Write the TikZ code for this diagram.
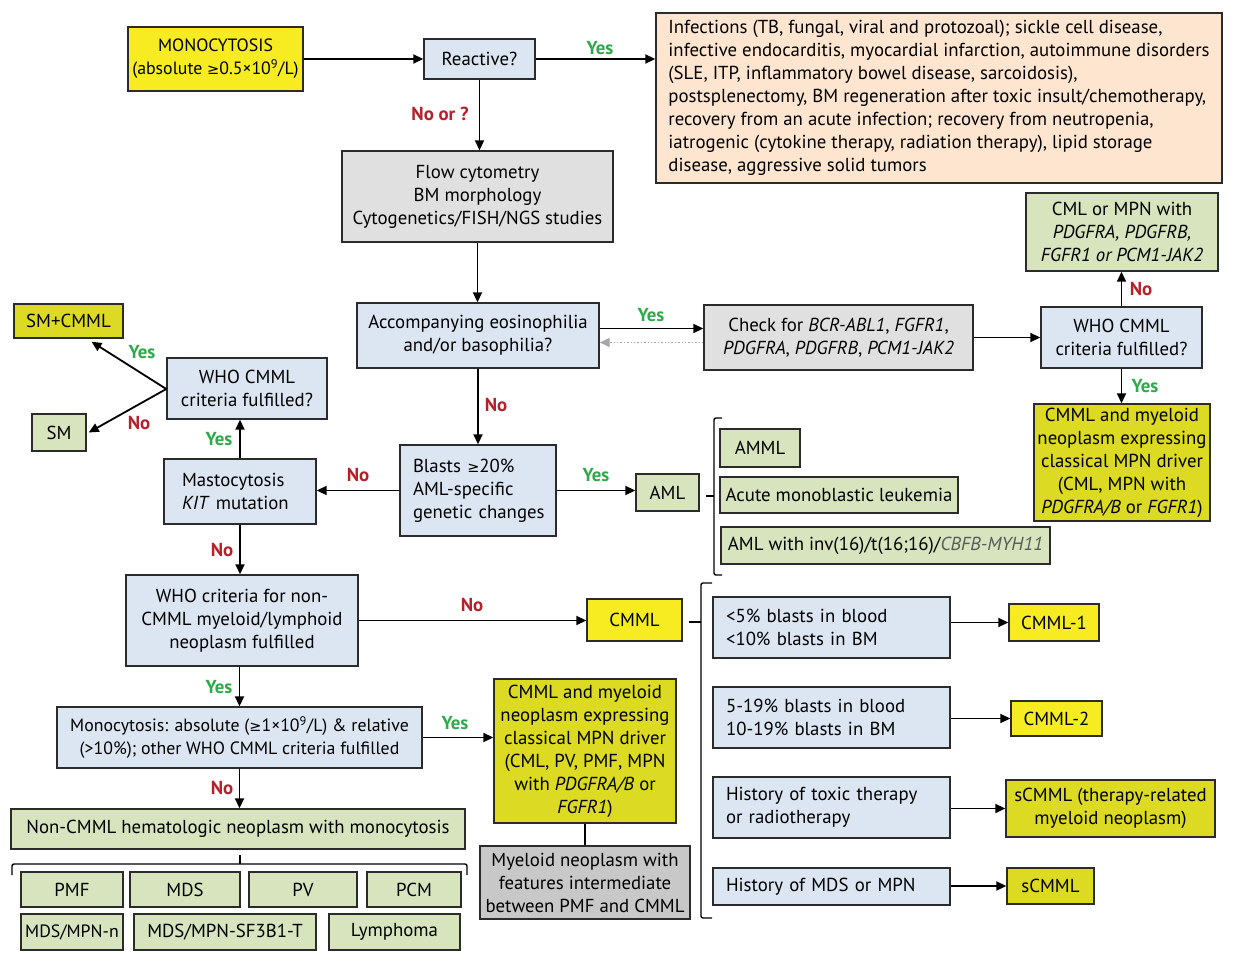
\documentclass[tikz,border=0pt]{standalone}
\usepackage{fontspec}
\setmainfont{PT Sans}
\newfontfamily\symf{DejaVu Sans}
\usetikzlibrary{arrows.meta,calc}
\definecolor{cblue}{HTML}{DCE6F2}
\definecolor{cgreen}{HTML}{D7E4BD}
\definecolor{cpeach}{HTML}{FDE5CF}
\definecolor{cgray}{HTML}{E0E0E0}
\definecolor{cdgray}{HTML}{C8C8C8}
\definecolor{cyel}{HTML}{F7EC22}
\definecolor{colive}{HTML}{DCDA22}
\definecolor{cedge}{HTML}{2B2B2B}
\definecolor{yesc}{HTML}{2EAA4A}
\definecolor{noc}{HTML}{B5202A}
\newcommand\mygeq{{\symf\fontsize{14.5}{23}\selectfont ≥}}
\newcommand\bx[7]{\node[box,#6,minimum width={(#4-#2)*1pt},minimum height={(#5-#3)*1pt}] (#1) at ({(#2+#4)/2},{(#3+#5)/2}) {#7};}
\tikzset{
  box/.style={draw=cedge,line width=1.4pt,inner sep=0pt,align=center,font=\fontsize{18.8}{23}\selectfont},
  smallf/.style={font=\fontsize{17.8}{23}\selectfont},
  blue/.style={fill=cblue}, green/.style={fill=cgreen}, peach/.style={fill=cpeach},
  gray/.style={fill=cgray}, dgray/.style={fill=cdgray}, yel/.style={fill=cyel}, olive/.style={fill=colive},
  lt/.style={align=left},
  arr/.style={line width=1.8pt,-{Triangle[length=10pt,width=9pt]}},
  yes/.style={text=yesc,font=\bfseries\fontsize{18.8}{20}\selectfont},
  no/.style={text=noc,font=\bfseries\fontsize{18.8}{20}\selectfont},
}
\begin{document}
\begin{tikzpicture}[x=1pt,y=-1pt]
\useasboundingbox[fill=white] (0,0) rectangle (1239,963);
% boxes
\bx{mono}{128}{27}{303}{91}{yel,smallf}{MONOCYTOSIS\\(absolute \mygeq0.5×10\textsuperscript{9}/L)}
\bx{reactive}{424}{39}{535}{79}{blue}{Reactive?}
\bx{infect}{656}{13}{1222}{183}{peach,lt}{Infections (TB, fungal, viral and protozoal); sickle cell disease,\\infective endocarditis, myocardial infarction, autoimmune disorders\\(SLE, ITP, inflammatory bowel disease, sarcoidosis),\\postsplenectomy, BM regeneration after toxic insult/chemotherapy,\\recovery from an acute infection; recovery from neutropenia,\\iatrogenic (cytokine therapy, radiation therapy), lipid storage\\disease, aggressive solid tumors}
\bx{flow}{342}{151}{613}{242}{gray}{Flow cytometry\\BM morphology\\Cytogenetics/FISH/NGS studies}
\bx{eos}{357}{303}{599}{368}{blue}{Accompanying eosinophilia\\and/or basophilia?}
\bx{check}{704}{305}{973}{370}{gray}{Check for \textit{BCR-ABL1}, \textit{FGFR1},\\\textit{PDGFRA}, \textit{PDGFRB}, \textit{PCM1-JAK2}}
\bx{whor}{1041}{307}{1202}{368}{blue}{WHO CMML\\criteria fulfilled?}
\bx{cml}{1026}{193}{1218}{271}{green}{CML or MPN with\\\textit{PDGFRA, PDGFRB,}\\\textit{FGFR1 or PCM1-JAK2}}
\bx{cmmlr}{1034}{404}{1210}{521}{olive}{CMML and myeloid\\neoplasm expressing\\classical MPN driver\\(CML, MPN with\\\textit{PDGFRA/B} or \textit{FGFR1})}
\bx{blasts}{400}{445}{556}{536}{blue,lt,text width=130pt}{Blasts~\mygeq20\%\\AML-specific\\genetic~changes}
\bx{aml}{636}{474}{699}{511}{green}{AML}
\bx{amml}{720}{429}{800}{467}{green}{AMML}
\bx{amol}{720}{477}{958}{513}{green}{Acute monoblastic leukemia}
\bx{aminv}{721}{527}{1050}{564}{green}{AML with inv(16)/t(16;16)/{\color{black!65}\textit{CBFB-MYH11}}}
\bx{masto}{164}{459}{316}{524}{blue,lt,text width=116pt}{Mastocytosis\\\textit{KIT}~mutation}
\bx{whol}{167}{358}{327}{419}{blue}{WHO CMML\\criteria fulfilled?}
\bx{smcmml}{14}{304}{123}{338}{olive}{SM+CMML}
\bx{sm}{32}{414}{86}{451}{green}{SM}
\bx{whon}{126}{575}{358}{666}{blue}{WHO criteria for non-\\CMML myeloid/lymphoid\\neoplasm fulfilled}
\bx{cmml}{587}{599}{682}{641}{yel}{CMML}
\bx{mono2}{57}{707}{422}{768}{blue,smallf}{Monocytosis: absolute (\mygeq1×10\textsuperscript{9}/L) \& relative\\(>10\%); other WHO CMML criteria fulfilled}
\bx{cmmlm}{494}{679}{676}{823}{olive}{CMML and myeloid\\neoplasm expressing\\classical MPN driver\\(CML, PV, PMF, MPN\\with \textit{PDGFRA/B} or\\\textit{FGFR1})}
\bx{myel}{480}{846}{690}{919}{dgray}{Myeloid neoplasm with\\features intermediate\\between PMF and CMML}
\bx{noncmml}{11}{809}{465}{849}{green}{Non-CMML hematologic neoplasm with monocytosis}
\bx{pmf}{21}{872}{123}{907}{green}{PMF}
\bx{mds}{130}{872}{240}{907}{green}{MDS}
\bx{pv}{249}{872}{357}{907}{green}{PV}
\bx{pcm}{367}{872}{461}{907}{green}{PCM}
\bx{mdsn}{21}{914}{123}{950}{green,smallf}{MDS/MPN-n}
\bx{mdssf}{134}{914}{316}{950}{green}{MDS/MPN-SF3B1-T}
\bx{lymph}{329}{914}{460}{950}{green}{Lymphoma}
\bx{b1}{713}{597}{950}{658}{blue,lt,text width=211pt}{<5\%~blasts~in~blood\\<10\%~blasts~in~BM}
\bx{b2}{713}{687}{950}{748}{blue,lt,text width=211pt}{5-19\%~blasts~in~blood\\10-19\%~blasts~in~BM}
\bx{b3}{713}{777}{950}{838}{blue,lt,text width=211pt}{History~of~toxic~therapy\\or~radiotherapy}
\bx{b4}{713}{868}{950}{905}{blue,lt,text width=211pt}{History~of~MDS~or~MPN}
\bx{c1}{1009}{604}{1099}{641}{yel}{CMML-1}
\bx{c2}{1011}{701}{1102}{736}{yel}{CMML-2}
\bx{c3}{1006}{780}{1215}{837}{olive}{sCMML (therapy-related\\myeloid neoplasm)}
\bx{c4}{1007}{868}{1094}{904}{olive}{sCMML}
% connectors
\draw[arr] (mono.east) -- (mono.east -| reactive.west);
\draw[arr] (reactive.east) -- (reactive.east -| infect.west);
\draw[arr] (reactive.south) -- (reactive.south |- flow.north);
\draw[arr] (flow.south) -- (flow.south |- eos.north);
\draw[arr] ($(eos.east)+(0,-7)$) -- ($(eos.east -| check.west)+(0,-7)$);
\draw[line width=1.4pt,gray!70,dotted,-{Triangle[length=10pt,width=9pt]}] ($(check.west)+(0,5)$) -- ($(check.west -| eos.east)+(0,5)$);
\draw[arr] (check.east) -- (check.east -| whor.west);
\draw[arr] (whor.north) -- (whor.north |- cml.south);
\draw[arr] (whor.south) -- (whor.south |- cmmlr.north);
\draw[arr] (eos.south) -- (eos.south |- blasts.north);
\draw[arr] (blasts.east) -- (blasts.east -| aml.west);
\draw[arr] (blasts.west) -- (blasts.west -| masto.east);
\draw[arr] (masto.north) -- (masto.north |- whol.south);
\coordinate (fork) at ($(whol.west)+(0,0.5)$);
\draw[arr] (fork) -- ($(smcmml.south)+(23,3)$);
\draw[arr] (fork) -- ($(sm.east)+(2,0)$);
\draw[arr] (masto.south) -- (masto.south |- whon.north);
\draw[arr] (whon.east) -- (whon.east -| cmml.west);
\draw[arr] (mono2.north |- whon.south) -- (mono2.north);
\draw[arr] (mono2.east) -- (mono2.east -| cmmlm.west);
\draw[line width=1.8pt] (cmmlm.south) -- (cmmlm.south |- myel.north);
\draw[arr] (mono2.south) -- (mono2.south |- noncmml.north);
\draw[arr] (b1.east |- c1.west) -- (c1.west);
\draw[arr] (b2.east |- c2.west) -- (c2.west);
\draw[arr] (b3.east |- c3.west) -- (c3.west);
\draw[arr] (b4.east |- c4.west) -- (c4.west);
% braces
\draw[line width=1.4pt,rounded corners=2pt] (722,418) -- (714,418) -- (714,575) -- (722,575);
\draw[line width=1.4pt] (714,496) -- (706,496);
\draw[line width=1.4pt,rounded corners=2pt] (712,583) -- (701,583) -- (701,918) -- (712,918);
\draw[line width=1.4pt] (701,622) -- (689,622);
\draw[line width=1.4pt,rounded corners=2pt] (12,875) -- (12,864) -- (467,864) -- (467,875);
\draw[line width=1.4pt] (240,864) -- (240,855);
% labels
\node[yes] (l1) at (600,48) {Yes};
\node[no] (l2) at (440,114) {No or ?};
\node[yes] (l3) at (651,315) {Yes};
\node[no] (l4) at (1141,289) {No};
\node[yes] (l5) at (1145,386) {Yes};
\node[no] (l6) at (496,405) {No};
\node[yes] (l7) at (596,475) {Yes};
\node[no] (l8) at (358,475) {No};
\node[yes] (l9) at (219,439) {Yes};
\node[yes] (l10) at (142,352) {Yes};
\node[no] (l11) at (139,423) {No};
\node[no] (l12) at (222,550) {No};
\node[no] (l13) at (472,605) {No};
\node[yes] (l14) at (219,687) {Yes};
\node[yes] (l15) at (455,723) {Yes};
\node[no] (l16) at (222,788) {No};
\end{tikzpicture}
\end{document}
